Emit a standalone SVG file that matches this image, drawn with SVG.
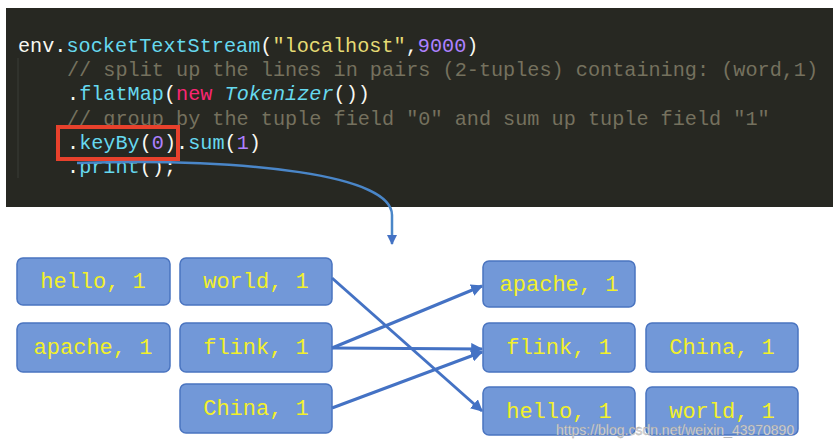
<svg xmlns="http://www.w3.org/2000/svg" width="839" height="448" viewBox="0 0 839 448">
<style>
.c{font-family:"Liberation Mono","DejaVu Sans Mono",monospace;font-size:20.2px}
.n rect{fill:#7298d8;stroke:#4a74c0;stroke-width:1.5}
.n text{font-family:"Liberation Mono","Courier New",monospace;font-size:22px;fill:#f2f02a;text-anchor:middle}
.e{stroke:#4472c4;stroke-width:3;fill:none;marker-end:url(#a)}
</style>
<defs><marker id="a" viewBox="0 0 10 10" refX="9" refY="5" markerWidth="4" markerHeight="4" orient="auto"><path d="M0,0L10,5L0,10z" fill="#4472c4"/></marker></defs>
<rect width="839" height="448" fill="#fff"/>
<g id="code">
<rect x="6" y="8" width="827" height="199" fill="#272822"/>
<line x1="18" y1="58" x2="18" y2="178" stroke="#3b3c36"/>
<text class="c" x="18" y="52"><tspan fill="#f8f8f2">env.</tspan><tspan fill="#66d9ef">socketTextStream</tspan><tspan fill="#f8f8f2">(</tspan><tspan fill="#e6db74">"localhost"</tspan><tspan fill="#f8f8f2">,</tspan><tspan fill="#ae81ff">9000</tspan><tspan fill="#f8f8f2">)</tspan></text>
<text class="c" x="67" y="76" fill="#75715e">// split up the lines in pairs (2-tuples) containing: (word,1)</text>
<text class="c" x="67" y="100"><tspan fill="#f8f8f2">.</tspan><tspan fill="#66d9ef">flatMap</tspan><tspan fill="#f8f8f2">(</tspan><tspan fill="#f92672">new </tspan><tspan fill="#66d9ef" font-style="italic">Tokenizer</tspan><tspan fill="#f8f8f2">())</tspan></text>
<text class="c" x="67" y="125" fill="#75715e">// group by the tuple field "0" and sum up tuple field "1"</text>
<text class="c" x="67" y="149"><tspan fill="#f8f8f2">.</tspan><tspan fill="#66d9ef">keyBy</tspan><tspan fill="#f8f8f2">(</tspan><tspan fill="#ae81ff">0</tspan><tspan fill="#f8f8f2">).</tspan><tspan fill="#66d9ef">sum</tspan><tspan fill="#f8f8f2">(</tspan><tspan fill="#ae81ff">1</tspan><tspan fill="#f8f8f2">)</tspan></text>
<text class="c" x="67" y="173"><tspan fill="#f8f8f2">.</tspan><tspan fill="#66d9ef">print</tspan><tspan fill="#f8f8f2">();</tspan></text>
<rect x="58" y="127" width="120" height="32" fill="none" stroke="#e8412c" stroke-width="4"/>
</g>
<g id="n1" class="n"><rect x="17" y="258" width="153" height="47" rx="6"/><text x="93" y="288">hello, 1</text></g>
<g id="n2" class="n"><rect x="180" y="258" width="152" height="47" rx="6"/><text x="256" y="288">world, 1</text></g>
<g id="n3" class="n"><rect x="17" y="323" width="153" height="49" rx="6"/><text x="93" y="354">apache, 1</text></g>
<g id="n4" class="n"><rect x="180" y="323" width="152" height="49" rx="6"/><text x="256" y="354">flink, 1</text></g>
<g id="n5" class="n"><rect x="180" y="384" width="152" height="49" rx="6"/><text x="256" y="415">China, 1</text></g>
<g id="n6" class="n"><rect x="483" y="261" width="152" height="46" rx="6"/><text x="559" y="291">apache, 1</text></g>
<g id="n7" class="n"><rect x="483" y="323" width="152" height="49" rx="6"/><text x="559" y="354">flink, 1</text></g>
<g id="n8" class="n"><rect x="646" y="323" width="152" height="49" rx="6"/><text x="722" y="354">China, 1</text></g>
<g id="n9" class="n"><rect x="483" y="387" width="152" height="48" rx="6"/><text x="559" y="418">hello, 1</text></g>
<g id="n10" class="n"><rect x="646" y="387" width="152" height="48" rx="6"/><text x="722" y="418">world, 1</text></g>
<g id="connectors">
<path d="M77,163 C250,158 392,175 392,215 L392,244" stroke="#4a86c8" stroke-width="2.5" fill="none" marker-end="url(#a)"/>
<path class="e" d="M332,278 L482,411"/>
<path class="e" d="M332,348 L482,286"/>
<path class="e" d="M332,348 L482,349"/>
<path class="e" d="M332,408 L482,352"/>
</g>
<text x="556" y="435" font-family="Liberation Sans,sans-serif" font-size="14" fill="#ddd" stroke="#999" stroke-width="0.3">https://blog.csdn.net/weixin_43970890</text>
</svg>
